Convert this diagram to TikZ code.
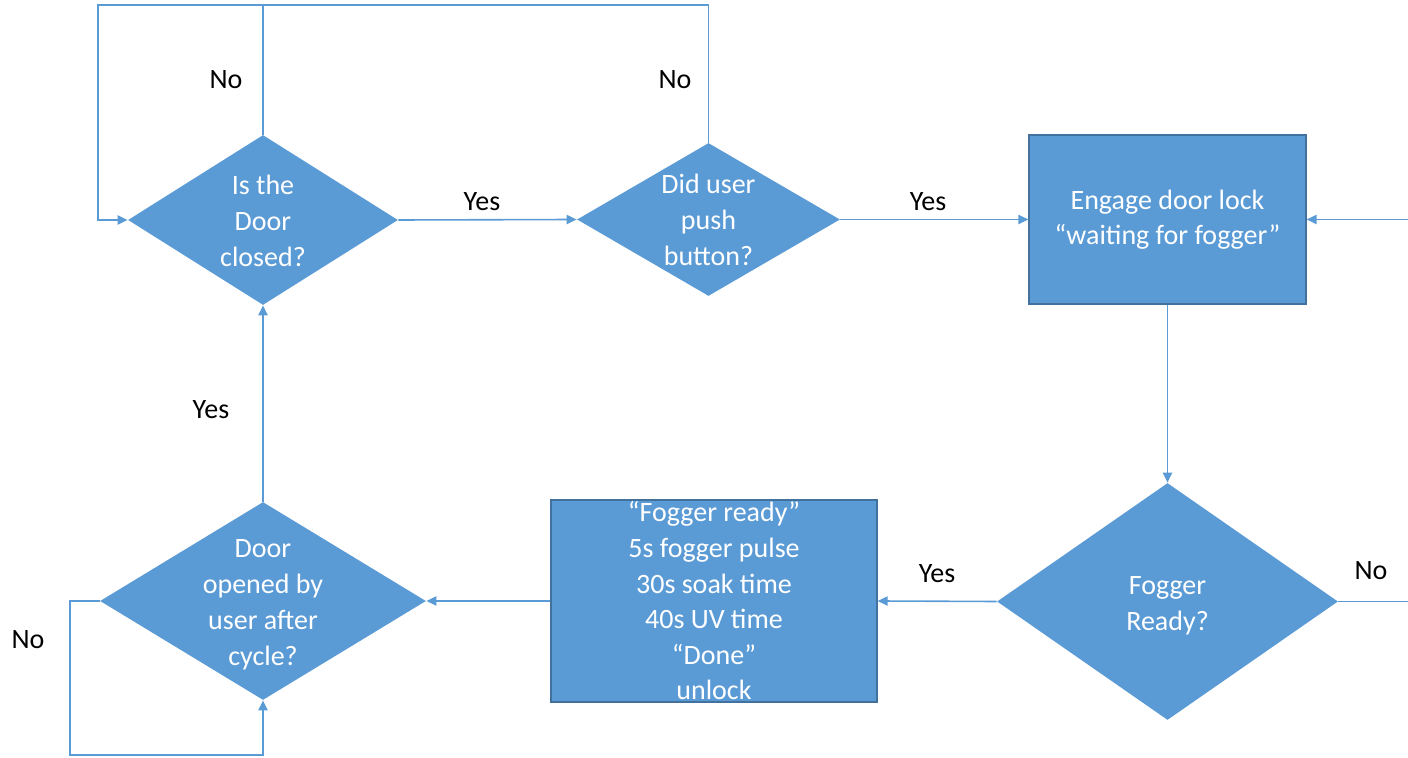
\documentclass[tikz,border=0pt]{standalone}
\usepackage{fontspec}
\setmainfont{Carlito}
\usetikzlibrary{arrows.meta, positioning, shapes.geometric}
\definecolor{OfficeBlue}{HTML}{5B9BD5}
\definecolor{OfficeEdge}{HTML}{41719C}

\tikzset{
    dec/.style={shape=diamond, fill=OfficeBlue, inner sep=0pt},
    proc/.style={rectangle, fill=OfficeBlue, draw=OfficeEdge, line width=0.6pt, inner sep=0pt,
        text=white, align=center, font=\fontsize{14}{17.8}\selectfont},
    dtxt/.style={text=white, align=center, inner sep=0pt, font=\fontsize{14}{18}\selectfont},
    lbl/.style={text=black, inner sep=0pt, font=\fontsize{14}{18}\selectfont},
    wire/.style={draw=OfficeBlue, line width=0.8pt},
    flow/.style={wire, -{Triangle[length=5pt, width=4.6pt]}}
}

\begin{document}
\begin{tikzpicture}[x=0.5pt, y=-0.5pt]
        \useasboundingbox (0,0) rectangle (1408,758);

        % Decisions and steps
        \node[dec, minimum width=135pt, minimum height=85pt] (closed) at (263,220) {};
        \node[dtxt, yshift=-0.5pt] (closedtxt) at (closed) {Is the\\Door\\closed?};
        \node[dec, minimum width=131.5pt, minimum height=76.5pt] (push) at (708.5,219.5) {};
        \node[dtxt] (pushtxt) at (push) {Did user\\push\\button?};
        \node[proc, minimum width=138.5pt, minimum height=84.5pt] (engage) at (1167.5,219.5)
            {Engage door lock\\“waiting for fogger”};
        \node[dec, minimum width=170.5pt, minimum height=118.5pt] (ready) at (1167.5,601.5) {};
        \node[dtxt, yshift=-2pt] (readytxt) at (ready) {Fogger\\Ready?};
        \node[proc, minimum width=163pt, minimum height=101pt] (cycle) at (714,601)
            {“Fogger ready”\\5s fogger pulse\\30s soak time\\40s UV time\\“Done”\\unlock};
        \node[dec, minimum width=163pt, minimum height=99pt] (opened) at (263,601) {};
        \node[dtxt, yshift=-2pt] (openedtxt) at (opened) {Door\\opened by\\user after\\cycle?};

        % Corners of the loops
        \coordinate (topL) at (98,5);
        \coordinate (botL) at (70,755);
        \coordinate (rgt) at (1410,219.5);

        % Connectors
        \draw[flow] (closed.north) |- (topL) |- (closed.west);
        \draw[wire] (push.north) |- (closed.north |- topL);
        \draw[flow] (closed.east) -- (push.west);
        \draw[flow] (push.east) -- (engage.west);
        \draw[flow] (engage.south) -- (ready.north);
        \draw[flow] (ready.east) -| (rgt) -- (engage.east);
        \draw[flow] (ready.west) -- (cycle.east);
        \draw[flow] (cycle.west) -- (opened.east);
        \draw[flow] (opened.north) -- (closed.south);
        \draw[flow] (opened.west) -| (botL) -| (opened.south);

        % Branch labels
        \node[lbl] (no1) at (226,80) {No};
        \node[lbl] (no2) at (675,80) {No};
        \node[lbl] (yes1) at (482,202) {Yes};
        \node[lbl] (yes2) at (928,202) {Yes};
        \node[lbl] (no3) at (1371,571) {No};
        \node[lbl] (yes3) at (937,574) {Yes};
        \node[lbl] (yes4) at (211,410) {Yes};
        \node[lbl] (no4) at (28,640) {No};
    \end{tikzpicture}
\end{document}
